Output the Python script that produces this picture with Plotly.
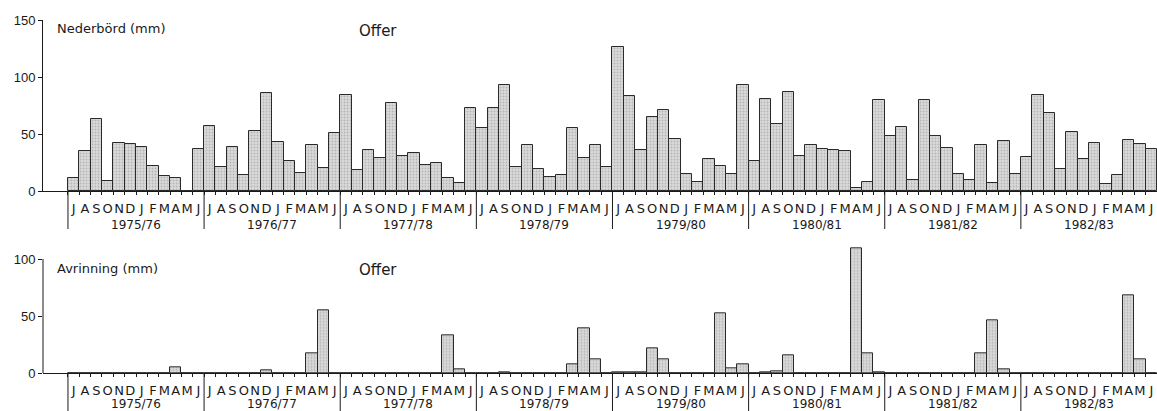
import plotly.graph_objects as go

# ---------------- data ----------------
years = ["1975/76", "1976/77", "1977/78", "1978/79", "1979/80", "1980/81", "1981/82", "1982/83"]
month_letters = ["J", "A", "S", "O", "N", "D", "J", "F", "M", "A", "M", "J"]

precip_7576 = [11, 35, 63, 9, 42, 41, 39, 22, 13, 11, 0, 37]
precip_7677 = [57, 21, 39, 14, 53, 86, 43, 26, 16, 40, 20, 51]
precip_7778 = [84, 18, 36, 29, 77, 31, 33, 23, 25, 11, 7, 73]
precip_7879 = [55, 73, 93, 21, 40, 19, 12, 14, 55, 29, 40, 21]
precip_7980 = [126, 83, 36, 65, 71, 46, 15, 8, 28, 22, 15, 93]
precip_8081 = [26, 81, 59, 87, 31, 40, 37, 36, 35, 3, 8, 80]
precip_8182 = [48, 56, 10, 80, 48, 38, 15, 10, 40, 7, 44, 15]
precip_8283 = [30, 84, 68, 19, 52, 28, 42, 6, 14, 45, 41, 37]

runoff_7576 = [0, 0, 0, 0, 0, 0, 0, 0, 0, 5, 0, 0]
runoff_7677 = [0, 0, 0, 0, 0, 2, 0, 0, 0, 17, 55, 0]
runoff_7778 = [0, 0, 0, 0, 0, 0, 0, 0, 0, 33, 3, 0]
runoff_7879 = [0, 0, 1, 0, 0, 0, 0, 0, 7.5, 39, 12, 0]
runoff_7980 = [0.5, 0.5, 0.5, 22, 12, 0, 0, 0, 0, 52, 4, 8]
runoff_8081 = [0, 0.5, 1.5, 15.5, 0, 0, 0, 0, 0, 109, 17.5, 0.5]
runoff_8182 = [0, 0, 0, 0, 0, 0, 0, 0, 17.5, 46, 3, 0]
runoff_8283 = [0, 0, 0, 0, 0, 0, 0, 0, 0, 68, 12, 0]

precip = (precip_7576 + precip_7677 + precip_7778 + precip_7879 +
          precip_7980 + precip_8081 + precip_8182 + precip_8283)
runoff = (runoff_7576 + runoff_7677 + runoff_7778 + runoff_7879 +
          runoff_7980 + runoff_8081 + runoff_8182 + runoff_8283)

n = len(precip)
xpos = [i + 0.5 for i in range(n)]
ticktext = month_letters * len(years)

# ---------------- style ----------------
FONT = "DejaVu Sans, Liberation Sans, Arial, sans-serif"
NUMFONT = "Liberation Sans, DejaVu Sans, Arial, sans-serif"
INK = "#1a1a1a"
W, H = 1157, 411
ML = 43  # left margin (pixel column of the y axes)

bar_marker = dict(
    color="#c8c8c8",
    line=dict(color="#2a2a2a", width=1),
    pattern=dict(shape=".", fgcolor="#8f8f8f", bgcolor="#dadada", size=3, solidity=0.3),
)

fig = go.Figure()
fig.add_trace(go.Bar(x=xpos, y=precip, width=1, marker=bar_marker, xaxis="x", yaxis="y",
                     showlegend=False, hoverinfo="y"))
fig.add_trace(go.Bar(x=xpos, y=runoff, width=1, marker=bar_marker, xaxis="x2", yaxis="y2",
                     showlegend=False, hoverinfo="y", cliponaxis=False))


def py(pix):
    return 1 - pix / H


def px(pix):
    return (pix - ML) / (W - ML)


top_base, top_top = 191, 20          # pixel rows of 0 and 150 mm
bot_base = 373
px_per_mm = (top_base - top_top) / 150.0
bot_max = 112
bot_top = bot_base - bot_max * px_per_mm

xrange = [-2.2, n]

xcommon = dict(
    range=xrange, showgrid=False, zeroline=False, showline=True, linecolor=INK, linewidth=1,
    automargin=False, tickangle=0,
    tickmode="array", tickvals=xpos, ticktext=ticktext, ticks="", ticklabelstandoff=5,
    tickfont=dict(family=FONT, size=13, color=INK),
    minor=dict(tickmode="array", tickvals=list(range(n + 1)), ticks="outside", ticklen=3,
               tickcolor=INK, tickwidth=1),
)

ycommon = dict(showgrid=False, zeroline=False, automargin=False, ticks="outside", ticklen=4,
               tickcolor=INK, tickfont=dict(family=NUMFONT, size=13, color=INK))

fig.update_layout(
    width=W, height=H,
    margin=dict(l=ML, r=0, t=0, b=0, autoexpand=False),
    paper_bgcolor="white", plot_bgcolor="white",
    bargap=0,
    font=dict(family=FONT, color=INK),
    xaxis=dict(domain=[0, 1], anchor="y", **xcommon),
    yaxis=dict(domain=[py(top_base), py(top_top)], range=[0, 150], tickvals=[0, 50, 100, 150],
               showline=True, linecolor=INK, linewidth=1, **ycommon),
    xaxis2=dict(domain=[0, 1], anchor="y2", **xcommon),
    yaxis2=dict(domain=[py(bot_base), py(bot_top)], range=[0, bot_max], tickvals=[0, 50, 100],
                showline=False, **ycommon),
)

shapes = []
annotations = []
for k, yr in enumerate(years):
    shapes.append(dict(type="line", xref="x", yref="paper", x0=12 * k, x1=12 * k,
                       y0=py(top_base), y1=py(229), line=dict(color=INK, width=1)))
    shapes.append(dict(type="line", xref="x2", yref="paper", x0=12 * k, x1=12 * k,
                       y0=py(bot_base), y1=py(H), line=dict(color=INK, width=1)))
    annotations.append(dict(text=yr, x=12 * k + 6, xref="x", y=py(225), yref="paper",
                            showarrow=False, font=dict(family=FONT, size=12, color=INK),
                            xanchor="center", yanchor="middle"))
    annotations.append(dict(text=yr, x=12 * k + 6, xref="x2", y=py(404), yref="paper",
                            showarrow=False, font=dict(family=FONT, size=12, color=INK),
                            xanchor="center", yanchor="middle"))

# bottom y axis line (0-100 only)
shapes.append(dict(type="line", xref="x2 domain", yref="y2", x0=0, x1=0, y0=0, y1=100,
                   line=dict(color=INK, width=1)))

annotations += [
    dict(text="Nederbörd (mm)", x=px(55), xref="paper", y=py(28), yref="paper", showarrow=False,
         xanchor="left", yanchor="middle", font=dict(family=FONT, size=13, color=INK)),
    dict(text="Offer", x=px(357), xref="paper", y=py(31), yref="paper", showarrow=False,
         xanchor="left", yanchor="middle", font=dict(family=FONT, size=15, color=INK)),
    dict(text="Avrinning (mm)", x=px(55), xref="paper", y=py(268), yref="paper", showarrow=False,
         xanchor="left", yanchor="middle", font=dict(family=FONT, size=13, color=INK)),
    dict(text="Offer", x=px(357), xref="paper", y=py(270), yref="paper", showarrow=False,
         xanchor="left", yanchor="middle", font=dict(family=FONT, size=15, color=INK)),
]

fig.update_layout(shapes=shapes, annotations=annotations)

fig.write_html("out.html", config={"displayModeBar": False},
               post_script="document.body.style.margin='0';document.body.style.overflow='hidden';")
